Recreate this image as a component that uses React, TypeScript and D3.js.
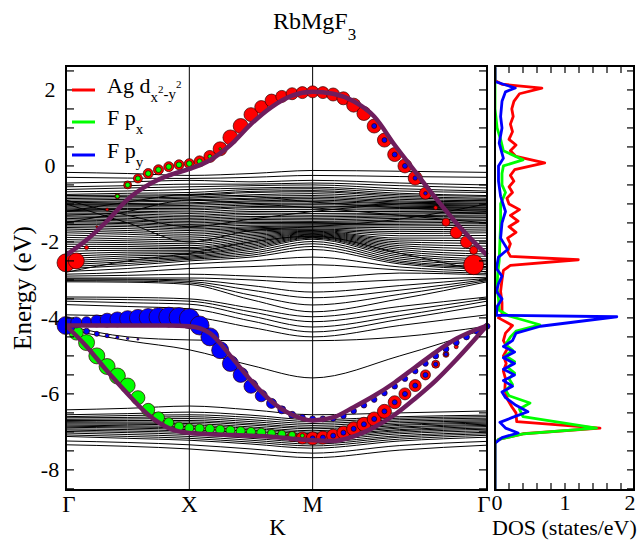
import { useEffect, useRef } from 'react'
import * as d3 from 'd3'

// high-symmetry points of the k-path
const kLabels = ['Γ', 'X', 'M', 'Γ']
const kLabelIndex = [0, 12, 24, 41]
const kLabelDist = [0, 0.5, 1.0, 1.707]

const energyLabels = [-8, -6, -4, -2, 0, 2]
const dosLabels = [0, 1, 2]

// plain bands, energy (eV) at Γ, Δ, X, Z, M, Σ, Γ
const bandNodeIndex = [0, 6, 12, 18, 24, 32.5, 41]
const upperBands = [
  [-0.17, -0.2, -0.25, -0.2, -0.12, -0.14, -0.17],
  [-0.3, -0.32, -0.33, -0.3, -0.25, -0.28, -0.3],
  [-0.45, -0.42, -0.38, -0.42, -0.38, -0.45, -0.5],
  [-0.55, -0.52, -0.48, -0.48, -0.45, -0.52, -0.58],
  [-0.62, -0.58, -0.55, -0.52, -0.5, -0.6, -0.66],
  [-0.68, -0.66, -0.62, -0.58, -0.56, -0.66, -0.7],
  [-0.75, -0.72, -0.7, -0.62, -0.6, -0.72, -0.78],
  [-0.78, -0.77, -0.75, -0.67, -0.65, -0.76, -0.8],
  [-0.82, -0.8, -0.78, -0.7, -0.68, -0.8, -0.85],
  [-0.86, -0.84, -0.82, -0.76, -0.73, -0.84, -0.88],
  [-0.9, -0.88, -0.85, -0.8, -0.78, -0.88, -0.92],
  [-0.94, -0.92, -0.89, -0.85, -0.82, -0.92, -0.95],
  [-0.97, -0.95, -0.92, -0.88, -0.86, -0.95, -0.98],
  [-1.0, -0.99, -0.97, -0.92, -0.9, -0.98, -1.0],
  [-1.02, -1.02, -1.0, -0.95, -0.94, -1.0, -1.03],
  [-1.05, -1.05, -1.04, -0.99, -0.98, -1.03, -1.05],
  [-1.08, -1.08, -1.08, -1.03, -1.02, -1.06, -1.08],
  [-1.11, -1.12, -1.12, -1.07, -1.06, -1.09, -1.1],
  [-1.14, -1.15, -1.16, -1.1, -1.1, -1.12, -1.13],
  [-1.17, -1.19, -1.21, -1.15, -1.15, -1.16, -1.15],
  [-1.2, -1.22, -1.25, -1.2, -1.2, -1.2, -1.18],
  [-1.24, -1.26, -1.3, -1.24, -1.25, -1.24, -1.22],
  [-1.27, -1.3, -1.34, -1.28, -1.3, -1.27, -1.25],
  [-1.31, -1.34, -1.38, -1.33, -1.34, -1.31, -1.29],
  [-1.34, -1.38, -1.42, -1.37, -1.38, -1.34, -1.32],
  [-1.38, -1.42, -1.46, -1.41, -1.42, -1.38, -1.36],
  [-1.42, -1.45, -1.5, -1.45, -1.46, -1.42, -1.4],
  [-1.46, -1.49, -1.54, -1.49, -1.49, -1.46, -1.44],
  [-1.5, -1.52, -1.58, -1.52, -1.52, -1.5, -1.48],
  [-1.54, -1.56, -1.62, -1.56, -1.55, -1.54, -1.52],
  [-1.58, -1.6, -1.66, -1.6, -1.58, -1.58, -1.56],
  [-1.62, -1.65, -1.7, -1.63, -1.6, -1.63, -1.61],
  [-1.66, -1.7, -1.75, -1.66, -1.63, -1.68, -1.66],
  [-1.71, -1.75, -1.8, -1.69, -1.66, -1.73, -1.71],
  [-1.76, -1.8, -1.85, -1.72, -1.68, -1.78, -1.76],
  [-1.82, -1.86, -1.9, -1.76, -1.7, -1.84, -1.83],
  [-1.88, -1.92, -1.95, -1.8, -1.72, -1.9, -1.9],
  [-1.94, -1.97, -2.0, -1.84, -1.74, -1.95, -1.97],
  [-2.0, -2.02, -2.05, -1.88, -1.76, -2.0, -2.04],
  [-2.06, -2.07, -2.1, -1.92, -1.78, -2.05, -2.11],
  [-2.12, -2.12, -2.15, -1.96, -1.8, -2.1, -2.18],
  [-2.18, -2.17, -2.18, -2.0, -1.82, -2.15, -2.25],
  [-2.25, -2.22, -2.22, -2.04, -1.84, -2.2, -2.32],
  [-2.32, -2.27, -2.26, -2.08, -1.86, -2.25, -2.38],
  [-2.38, -2.32, -2.3, -2.12, -1.88, -2.3, -2.45],
  [-2.44, -2.37, -2.33, -2.16, -1.9, -2.35, -2.5],
  [-2.5, -2.42, -2.37, -2.2, -1.93, -2.4, -2.56],
  [-2.55, -2.47, -2.4, -2.25, -1.99, -2.45, -2.6],
  [-2.6, -2.52, -2.43, -2.3, -2.05, -2.5, -2.65],
  [-2.65, -2.57, -2.46, -2.35, -2.12, -2.54, -2.68],
  [-2.7, -2.62, -2.5, -2.4, -2.2, -2.58, -2.72],
  [-2.78, -2.7, -2.58, -2.5, -2.4, -2.66, -2.78],
  [-2.85, -2.8, -2.7, -2.65, -2.6, -2.74, -2.83],
  [-2.9, -2.88, -2.85, -2.9, -2.95, -2.82, -2.87],
  [-1.5, -1.2, -0.9, -1.0, -1.1, -1.3, -1.5],
  [-0.9, -1.3, -1.6, -1.4, -1.2, -1.0, -0.9],
  [-2.8, -2.5, -2.3, -2.0, -1.85, -2.3, -2.8],
  [-1.0, -1.5, -2.0, -1.7, -1.6, -1.4, -1.0],
  [-1.2, -0.95, -0.75, -0.8, -0.95, -1.1, -1.2],
]
const middleBands = [
  [-2.95, -2.95, -2.95, -3.0, -3.08, -3.0, -2.93],
  [-2.97, -2.98, -3.0, -3.15, -3.32, -3.15, -2.96],
  [-3.0, -3.0, -3.04, -3.27, -3.47, -3.27, -2.99],
  [-3.02, -3.03, -3.08, -3.4, -3.66, -3.38, -3.02],
  [-3.05, -3.06, -3.12, -3.52, -3.84, -3.5, -3.05],
  [-3.45, -3.46, -3.5, -3.74, -3.97, -3.7, -3.45],
  [-3.5, -3.52, -3.56, -3.84, -4.1, -3.82, -3.5],
  [-3.56, -3.6, -3.64, -3.95, -4.24, -3.94, -3.56],
  [-3.65, -3.7, -3.76, -4.08, -4.37, -4.04, -3.66],
  [-3.92, -3.95, -3.98, -4.25, -4.5, -4.2, -3.92],
  [-4.2, -4.5, -4.58, -4.6, -4.6, -4.5, -4.22],
  [-4.3, -4.6, -4.84, -5.25, -5.58, -5.0, -4.28],
]
const lowerBands = [
  [-6.42, -6.38, -6.32, -6.42, -6.55, -6.5, -6.45],
  [-6.55, -6.52, -6.48, -6.56, -6.68, -6.6, -6.56],
  [-6.6, -6.57, -6.55, -6.62, -6.73, -6.64, -6.6],
  [-6.63, -6.62, -6.6, -6.68, -6.78, -6.68, -6.64],
  [-6.67, -6.66, -6.65, -6.73, -6.83, -6.72, -6.68],
  [-6.7, -6.7, -6.7, -6.78, -6.88, -6.76, -6.71],
  [-6.73, -6.74, -6.74, -6.82, -6.92, -6.8, -6.74],
  [-6.76, -6.77, -6.78, -6.87, -6.97, -6.83, -6.77],
  [-6.79, -6.8, -6.82, -6.91, -7.01, -6.87, -6.8],
  [-6.82, -6.84, -6.86, -6.95, -7.05, -6.9, -6.83],
  [-6.85, -6.87, -6.9, -6.99, -7.09, -6.94, -6.86],
  [-6.88, -6.9, -6.94, -7.03, -7.13, -6.97, -6.9],
  [-6.92, -6.94, -6.98, -7.07, -7.17, -7.01, -6.93],
  [-6.95, -6.98, -7.02, -7.12, -7.22, -7.05, -6.97],
  [-6.99, -7.02, -7.07, -7.17, -7.27, -7.1, -7.01],
  [-7.03, -7.07, -7.12, -7.22, -7.32, -7.14, -7.05],
  [-7.08, -7.12, -7.17, -7.27, -7.37, -7.19, -7.09],
  [-7.12, -7.17, -7.22, -7.32, -7.43, -7.24, -7.14],
  [-7.24, -7.28, -7.34, -7.45, -7.56, -7.36, -7.25],
  [-7.34, -7.38, -7.45, -7.57, -7.68, -7.48, -7.35],
]

// fat bands (drawn in purple)
const fatNodeIndex = [0, 2, 4, 6, 8, 10, 12, 14, 16, 18, 20, 22, 24, 26, 28, 30, 32, 34, 36, 38, 41]
const fatBandAg = [-2.35, -1.95, -1.45, -0.88, -0.5, -0.25, -0.08, 0.15, 0.55, 1.1, 1.55, 1.85, 1.95, 1.9, 1.7, 1.3, 0.55, -0.15, -0.85, -1.5, -2.35]
const fatBandPy = [-4.2, -4.2, -4.2, -4.2, -4.2, -4.2, -4.22, -4.4, -5.0, -5.65, -6.2, -6.55, -6.7, -6.62, -6.35, -6.05, -5.7, -5.3, -4.9, -4.55, -4.2]
const fatBandPx = [-4.2, -4.75, -5.4, -6.0, -6.55, -6.9, -7.03, -7.06, -7.08, -7.1, -7.13, -7.18, -7.22, -7.24, -7.12, -6.88, -6.55, -6.12, -5.65, -5.1, -4.2]

// orbital projections: [k index, energy (eV), weight]
const projAgUpper = [
  [0, -2.55, 0.9], [1, -2.5, 0.8], [2, -2.15, 0.2], [3, -1.6, 0.1], [4, -1.15, 0.15], [5, -0.8, 0.25],
  [6, -0.5, 0.4], [7, -0.33, 0.45], [8, -0.2, 0.5], [9, -0.1, 0.5], [10, -0.02, 0.5], [11, 0.03, 0.5],
  [12, 0.06, 0.5], [13, 0.12, 0.55], [14, 0.25, 0.6], [15, 0.45, 0.7], [16, 0.75, 0.75], [17, 1.05, 0.75],
  [18, 1.35, 0.7], [19, 1.55, 0.65], [20, 1.72, 0.65], [21, 1.83, 0.6], [22, 1.9, 0.6], [23, 1.93, 0.6],
  [24, 1.95, 0.6], [25, 1.93, 0.6], [26, 1.88, 0.65], [27, 1.78, 0.65], [28, 1.6, 0.7], [29, 1.38, 0.7],
  [30, 1.05, 0.7], [31, 0.68, 0.7], [32, 0.3, 0.7], [33, 0.0, 0.7], [34, -0.32, 0.7], [35, -0.72, 0.6],
  [36, -1.1, 0.2], [37, -1.48, 0.4], [38, -1.75, 0.6], [39, -2.0, 0.6], [39.7, -2.22, 0.4], [39.7, -2.6, 1.0],
]
const projAgLower = [
  [21, -7.08, 0.4], [22, -7.12, 0.5], [23, -7.16, 0.6], [24, -7.17, 0.65], [25, -7.15, 0.65], [26, -7.1, 0.65],
  [27, -7.02, 0.65], [28, -6.92, 0.7], [29, -6.8, 0.7], [30, -6.66, 0.7], [31, -6.46, 0.7], [32, -6.22, 0.65],
  [33, -6.0, 0.6], [34, -5.78, 0.6], [35, -5.5, 0.5], [36, -5.22, 0.4], [37, -4.96, 0.3], [38, -4.76, 0.2],
]
const projPxUpper = [
  [5, -0.8, 0.2], [6, -0.5, 0.25], [7, -0.33, 0.25], [8, -0.2, 0.28], [9, -0.1, 0.28], [10, -0.02, 0.28],
  [11, 0.03, 0.28], [12, 0.06, 0.28], [13, 0.12, 0.25], [14, 0.25, 0.2], [15, 0.45, 0.12],
]
const projPxLower = [
  [0, -4.25, 0.6], [1, -4.4, 0.7], [2, -4.65, 0.8], [3, -5.0, 0.8], [4, -5.28, 0.8], [5, -5.53, 0.8],
  [6, -5.78, 0.75], [7, -6.1, 0.7], [8, -6.42, 0.65], [9, -6.63, 0.6], [10, -6.76, 0.5], [11, -6.86, 0.45],
  [12, -6.9, 0.45], [13, -6.91, 0.45], [14, -6.92, 0.45], [15, -6.94, 0.45], [16, -6.96, 0.45], [17, -6.98, 0.45],
  [18, -7.0, 0.45], [19, -7.02, 0.45], [20, -7.04, 0.4], [21, -7.06, 0.4], [22, -7.08, 0.35], [23, -7.1, 0.2],
]
const projPyUpper = [
  [30, 1.05, 0.25], [31, 0.68, 0.25], [32, 0.3, 0.25], [33, 0.0, 0.25], [34, -0.32, 0.22], [35, -0.72, 0.18],
]
const projPyLower = [
  [0, -4.2, 0.9], [1, -4.12, 0.55], [2, -4.1, 0.5], [3, -4.08, 0.6], [4, -4.06, 0.7], [5, -4.04, 0.75],
  [6, -4.02, 0.8], [7, -4.0, 0.85], [8, -3.99, 0.9], [9, -3.98, 0.95], [10, -3.98, 1.0], [11, -3.99, 1.0],
  [12, -4.02, 1.0], [13, -4.2, 0.95], [14, -4.5, 0.9], [15, -4.85, 0.85], [16, -5.2, 0.8], [17, -5.5, 0.75],
  [18, -5.8, 0.7], [19, -6.05, 0.6], [20, -6.25, 0.5], [21, -6.42, 0.4], [22, -6.55, 0.35], [23, -6.62, 0.3],
  [24, -6.66, 0.3], [25, -6.66, 0.3], [26, -6.65, 0.28], [27, -6.58, 0.28], [28, -6.45, 0.28], [29, -6.3, 0.28],
  [30, -6.15, 0.28], [31, -5.98, 0.28], [32, -5.8, 0.28], [33, -5.6, 0.28], [34, -5.4, 0.28], [35, -5.2, 0.28],
  [36, -5.0, 0.3], [37, -4.82, 0.3], [38, -4.65, 0.3], [39, -4.5, 0.3], [40, -4.35, 0.3], [41, -4.22, 0.3],
]
const projPyMixed = [
  [2, -4.35, 0.3], [3, -4.42, 0.25], [4, -4.47, 0.2], [5, -4.51, 0.15], [6, -4.54, 0.12], [7, -4.56, 0.1],
  [24, -7.17, 0.25], [25, -7.15, 0.25], [26, -7.1, 0.25], [27, -7.02, 0.25], [28, -6.92, 0.25], [29, -6.8, 0.25],
  [30, -6.66, 0.25], [31, -6.46, 0.25], [32, -6.22, 0.25], [33, -6.0, 0.25], [34, -5.78, 0.25], [35, -5.5, 0.25],
  [36, -5.22, 0.22], [37, -4.96, 0.2],
]

// projected DOS: [energy (eV), states/eV]
const dosAg = [
  [2.6, 0], [2.25, 0], [2.15, 0.1], [2.05, 0.67], [1.9, 0.35], [1.7, 0.27], [1.5, 0.24], [1.3, 0.26], [1.1, 0.22],
  [0.9, 0.25], [0.7, 0.2], [0.55, 0.3], [0.4, 0.22], [0.25, 0.3], [0.08, 0.71], [-0.1, 0.28], [-0.25, 0.22],
  [-0.4, 0.27], [-0.55, 0.2], [-0.7, 0.25], [-0.85, 0.17], [-1.0, 0.2], [-1.15, 0.35], [-1.3, 0.22],
  [-1.45, 0.33], [-1.6, 0.2], [-1.75, 0.3], [-1.9, 0.18], [-2.05, 0.22], [-2.25, 0.18], [-2.38, 0.22],
  [-2.47, 1.19], [-2.62, 0.22], [-2.75, 0.12], [-3.0, 0.1], [-3.3, 0.08], [-3.6, 0.1], [-3.9, 0.1], [-4.0, 0.05],
  [-4.2, 0.25], [-4.4, 0.15], [-4.6, 0.12], [-4.8, 0.18], [-5.0, 0.12], [-5.2, 0.16], [-5.4, 0.12],
  [-5.6, 0.15], [-5.9, 0.14], [-6.15, 0.18], [-6.34, 0.24], [-6.5, 0.3], [-6.73, 0.31], [-6.9, 1.5],
  [-7.05, 0.4], [-7.2, 0.05], [-7.3, 0], [-8.6, 0],
]
const dosPx = [
  [2.6, 0], [1.5, 0], [1.0, 0.03], [0.7, 0.08], [0.4, 0.12], [0.16, 0.4], [0.0, 0.12], [-0.2, 0.1],
  [-0.5, 0.1], [-0.7, 0.15], [-1.0, 0.08], [-1.5, 0.08], [-2.0, 0.07], [-2.5, 0.06], [-2.8, 0.04],
  [-3.2, 0.03], [-3.5, 0.05], [-3.8, 0.06], [-3.95, 0.2], [-4.18, 0.64], [-4.35, 0.3], [-4.5, 0.22],
  [-4.7, 0.15], [-4.85, 0.25], [-5.0, 0.15], [-5.15, 0.28], [-5.3, 0.18], [-5.45, 0.28], [-5.6, 0.2],
  [-5.75, 0.25], [-5.9, 0.15], [-6.05, 0.2], [-6.24, 0.5], [-6.4, 0.35], [-6.6, 0.4], [-6.9, 1.45],
  [-7.05, 0.4], [-7.2, 0.05], [-7.3, 0], [-8.6, 0],
]
const dosPy = [
  [2.6, 0], [2.22, 0], [2.05, 0.29], [1.95, 0.15], [1.7, 0.1], [1.3, 0.08], [1.0, 0.1], [0.6, 0.06],
  [0.2, 0.12], [0.0, 0.05], [-0.4, 0.05], [-0.8, 0.08], [-1.2, 0.15], [-1.5, 0.1], [-1.9, 0.08],
  [-2.2, 0.18], [-2.4, 0.05], [-2.7, 0.02], [-2.9, 0.1], [-3.1, 0.05], [-3.3, 0.02], [-3.5, 0.1],
  [-3.7, 0.03], [-3.93, 0.02], [-3.97, 1.74], [-4.22, 0.65], [-4.4, 0.3], [-4.6, 0.25], [-4.75, 0.12],
  [-4.9, 0.28], [-5.05, 0.12], [-5.2, 0.28], [-5.35, 0.12], [-5.5, 0.28], [-5.65, 0.12], [-5.8, 0.25],
  [-5.95, 0.1], [-6.1, 0.15], [-6.3, 0.3], [-6.47, 0.47], [-6.62, 0.25], [-6.75, 0.07], [-6.9, 0.15],
  [-7.03, 0.33], [-7.15, 0.1], [-7.3, 0], [-8.6, 0],
]

const RED = '#ff0000'
const GREEN = '#00ff00'
const BLUE = '#0000ff'
const PURPLE = '#6e1d5d'
const FONT = "'Liberation Serif', 'Times New Roman', serif"

export default function App() {
  const svgRef = useRef<SVGSVGElement>(null)

  useEffect(() => {
    if (!svgRef.current) return
    const svg = d3.select(svgRef.current)
    svg.selectAll('*').remove()

    const box = { left: 66, right: 487, top: 66, bottom: 490 }
    const dosBox = { left: 495, right: 634 }

    const y = d3.scaleLinear().domain([-8.53, 2.63]).range([box.bottom, box.top])
    const xPath = d3.scaleLinear().domain([0, kLabelDist[3]]).range([box.left, box.right])
    const xk = d3.scaleLinear().domain(kLabelIndex).range(kLabelDist.map(d => xPath(d)))
    const xDos = d3.scaleLinear().domain([0, 2]).range([dosBox.left, 635])

    svg.append('rect').attr('width', 641).attr('height', 540).attr('fill', '#fff')

    const defs = svg.append('defs')
    defs.append('clipPath').attr('id', 'dosClip').append('rect')
      .attr('x', dosBox.left).attr('y', box.top)
      .attr('width', dosBox.right - dosBox.left).attr('height', box.bottom - box.top)
    defs.append('clipPath').attr('id', 'bandClip').append('rect')
      .attr('x', box.left).attr('y', box.top)
      .attr('width', box.right - box.left).attr('height', box.bottom - box.top)

    // plain bands
    const bandLine = d3.line<number>()
      .x((_, i) => xk(bandNodeIndex[i]))
      .y(d => y(d))
      .curve(d3.curveMonotoneX)
    const bands = svg.append('g').attr('clip-path', 'url(#bandClip)')
    bands.selectAll('path')
      .data([...upperBands, ...middleBands, ...lowerBands])
      .join('path')
      .attr('d', d => bandLine(d))
      .attr('fill', 'none')
      .attr('stroke', '#000')
      .attr('stroke-width', 1)

    // high-symmetry verticals
    svg.append('g').selectAll('line')
      .data(kLabelIndex.slice(1, 3))
      .join('line')
      .attr('x1', d => xk(d)).attr('x2', d => xk(d))
      .attr('y1', box.top).attr('y2', box.bottom)
      .attr('stroke', '#000').attr('stroke-width', 1)

    // projection circles
    const rScale = d3.scaleLinear().domain([0, 1]).range([0, 10])
    const dots = (data: number[][], color: string) => {
      svg.append('g').selectAll('circle')
        .data(data)
        .join('circle')
        .attr('cx', d => xk(d[0]))
        .attr('cy', d => y(d[1]))
        .attr('r', d => rScale(d[2]))
        .attr('fill', color)
        .attr('stroke', '#300')
        .attr('stroke-width', 0.7)
    }
    dots(projAgUpper, RED)
    dots(projAgLower, RED)
    dots(projPxUpper, GREEN)
    dots(projPxLower, GREEN)
    dots(projPyUpper, BLUE)
    dots(projPyLower, BLUE)
    dots(projPyMixed, BLUE)

    // fat band lines
    const fatLine = d3.line<number>()
      .x((_, i) => xk(fatNodeIndex[i]))
      .y(d => y(d))
      .curve(d3.curveMonotoneX)
    svg.append('g').selectAll('path')
      .data([fatBandAg, fatBandPy, fatBandPx])
      .join('path')
      .attr('d', d => fatLine(d))
      .attr('fill', 'none')
      .attr('stroke', PURPLE)
      .attr('stroke-width', 4.5)
      .attr('stroke-linejoin', 'round')

    // DOS curves
    const dosLine = d3.line<number[]>().x(d => xDos(d[1])).y(d => y(d[0]))
    const dosG = svg.append('g').attr('clip-path', 'url(#dosClip)')
    ;[[dosAg, RED], [dosPx, GREEN], [dosPy, BLUE]].forEach(([data, color]) => {
      dosG.append('path')
        .datum(data as number[][])
        .attr('d', dosLine)
        .attr('fill', 'none')
        .attr('stroke', color as string)
        .attr('stroke-width', 2.8)
        .attr('stroke-linejoin', 'round')
    })

    // frames
    svg.append('rect')
      .attr('x', box.left).attr('y', box.top)
      .attr('width', box.right - box.left).attr('height', box.bottom - box.top)
      .attr('fill', 'none').attr('stroke', '#000').attr('stroke-width', 2)
    svg.append('rect')
      .attr('x', dosBox.left).attr('y', box.top)
      .attr('width', dosBox.right - dosBox.left).attr('height', box.bottom - box.top)
      .attr('fill', 'none').attr('stroke', '#000').attr('stroke-width', 2)

    // energy ticks (every 0.5 eV) on both panels
    const eTicks = d3.range(-8.5, 2.6, 0.5)
    const tickG = svg.append('g').attr('stroke', '#000').attr('stroke-width', 1.2)
    eTicks.forEach(e => {
      const ty = y(e)
      tickG.append('line').attr('x1', box.left).attr('x2', box.left + 8).attr('y1', ty).attr('y2', ty)
      tickG.append('line').attr('x1', box.right - 8).attr('x2', box.right).attr('y1', ty).attr('y2', ty)
      tickG.append('line').attr('x1', dosBox.right - 7).attr('x2', dosBox.right).attr('y1', ty).attr('y2', ty)
    })
    xDos.ticks(10).forEach(v => {
      const tx = xDos(v)
      if (tx <= dosBox.left + 1 || tx >= dosBox.right - 1) return
      tickG.append('line').attr('x1', tx).attr('x2', tx).attr('y1', box.top).attr('y2', box.top + 7)
      tickG.append('line').attr('x1', tx).attr('x2', tx).attr('y1', box.bottom - 7).attr('y2', box.bottom)
    })

    // tick labels
    const text = svg.append('g').style('font-family', FONT).attr('fill', '#000')
    energyLabels.forEach(e => {
      text.append('text')
        .attr('x', 50).attr('y', y(e) + 7)
        .attr('text-anchor', 'middle').attr('font-size', 22)
        .text(String(e))
    })
    kLabels.forEach((l, i) => {
      text.append('text')
        .attr('x', xk(kLabelIndex[i]) + (i === 0 ? 3 : i === 3 ? -3 : 0)).attr('y', 512)
        .attr('text-anchor', 'middle').attr('font-size', 23)
        .text(l)
    })
    dosLabels.forEach(v => {
      text.append('text')
        .attr('x', v === 0 ? 497 : Math.min(xDos(v), 630)).attr('y', 510)
        .attr('text-anchor', 'middle').attr('font-size', 22)
        .text(String(v))
    })
    text.append('text')
      .attr('x', (box.left + box.right) / 2 + 1).attr('y', 535)
      .attr('text-anchor', 'middle').attr('font-size', 23)
      .text('K')
    text.append('text')
      .attr('x', 492).attr('y', 535)
      .attr('font-size', 22)
      .text('DOS (states/eV)')
    text.append('text')
      .attr('transform', `translate(31,${(box.top + box.bottom) / 2 + 10}) rotate(-90)`)
      .attr('text-anchor', 'middle').attr('font-size', 25)
      .text('Energy (eV)')

    // title
    const title = text.append('text').attr('x', 273).attr('y', 29).attr('font-size', 24)
    title.append('tspan').text('RbMgF')
    title.append('tspan').attr('dy', 11).attr('font-size', 17).text('3')

    // legend
    const legendRows = [
      { color: RED, base: 93 },
      { color: GREEN, base: 125 },
      { color: BLUE, base: 158 },
    ]
    legendRows.forEach(r => {
      svg.append('line')
        .attr('x1', 72).attr('x2', 95)
        .attr('y1', r.base - 3).attr('y2', r.base - 3)
        .attr('stroke', r.color).attr('stroke-width', 3)
    })
    const l1 = text.append('text').attr('x', 107).attr('y', 93).attr('font-size', 22)
    l1.append('tspan').text('Ag d')
    l1.append('tspan').attr('dy', 9).attr('font-size', 15).text('x')
    l1.append('tspan').attr('dy', -9).attr('font-size', 11).text('2')
    l1.append('tspan').attr('dy', 6).attr('font-size', 15).text('-y')
    l1.append('tspan').attr('dy', -11).attr('font-size', 11).text('2')
    const l2 = text.append('text').attr('x', 107).attr('y', 125).attr('font-size', 22)
    l2.append('tspan').text('F p')
    l2.append('tspan').attr('dy', 9).attr('font-size', 15).text('x')
    const l3 = text.append('text').attr('x', 107).attr('y', 158).attr('font-size', 22)
    l3.append('tspan').text('F p')
    l3.append('tspan').attr('dy', 9).attr('font-size', 15).text('y')
  }, [])

  return (
    <svg
      ref={svgRef}
      width={641}
      height={540}
      style={{ position: 'absolute', left: 0, top: 0, display: 'block' }}
    />
  )
}
